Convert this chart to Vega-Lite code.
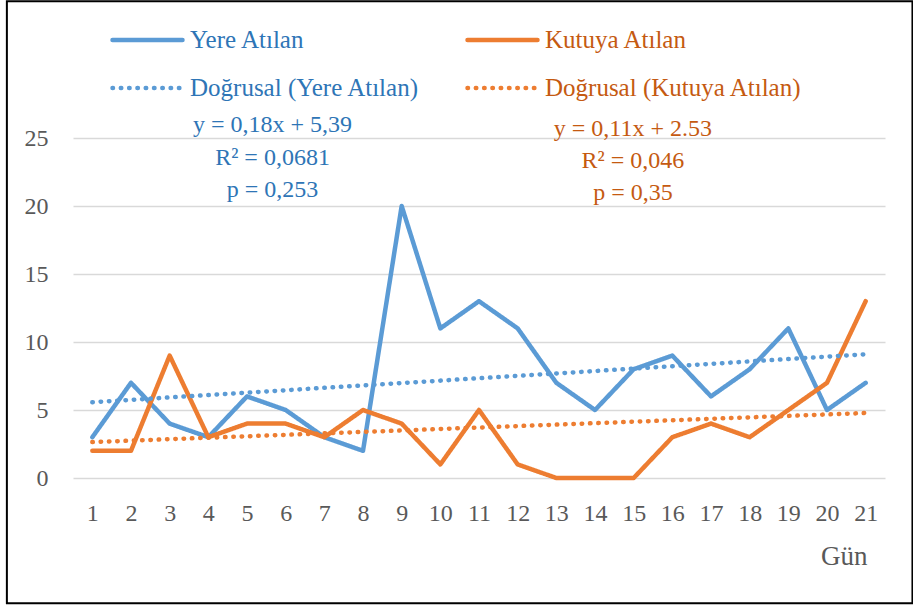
{
  "$schema": "https://vega.github.io/schema/vega-lite/v6.json",
  "width": 812,
  "height": 340,
  "padding": {"left": 5, "top": 0, "right": 0, "bottom": 0},
  "background": "white",
  "config": {
    "font": "Liberation Serif",
    "view": {"stroke": null},
    "axis": {"titleFont": "Liberation Serif", "titleFontWeight": "normal", "titleColor": "#595959", "labelFontSize": 24, "labelColor": "#595959"},
    "legend": {
      "orient": "none",
      "legendX": 37,
      "legendY": -113,
      "direction": "horizontal",
      "columns": 2,
      "columnPadding": 45,
      "rowPadding": 18,
      "clipHeight": 30,
      "symbolType": "stroke",
      "symbolSize": 4900,
      "labelOffset": 5,
      "labelFontSize": 25,
      "labelFont": "Liberation Serif",
      "padding": 0,
      "labelLimit": 400
    }
  },
  "datasets": {
    "series": [
      {"day": 1, "value": 3, "series": "Yere Atılan"},
      {"day": 2, "value": 7, "series": "Yere Atılan"},
      {"day": 3, "value": 4, "series": "Yere Atılan"},
      {"day": 4, "value": 3, "series": "Yere Atılan"},
      {"day": 5, "value": 6, "series": "Yere Atılan"},
      {"day": 6, "value": 5, "series": "Yere Atılan"},
      {"day": 7, "value": 3, "series": "Yere Atılan"},
      {"day": 8, "value": 2, "series": "Yere Atılan"},
      {"day": 9, "value": 20, "series": "Yere Atılan"},
      {"day": 10, "value": 11, "series": "Yere Atılan"},
      {"day": 11, "value": 13, "series": "Yere Atılan"},
      {"day": 12, "value": 11, "series": "Yere Atılan"},
      {"day": 13, "value": 7, "series": "Yere Atılan"},
      {"day": 14, "value": 5, "series": "Yere Atılan"},
      {"day": 15, "value": 8, "series": "Yere Atılan"},
      {"day": 16, "value": 9, "series": "Yere Atılan"},
      {"day": 17, "value": 6, "series": "Yere Atılan"},
      {"day": 18, "value": 8, "series": "Yere Atılan"},
      {"day": 19, "value": 11, "series": "Yere Atılan"},
      {"day": 20, "value": 5, "series": "Yere Atılan"},
      {"day": 21, "value": 7, "series": "Yere Atılan"},
      {"day": 1, "value": 2, "series": "Kutuya Atılan"},
      {"day": 2, "value": 2, "series": "Kutuya Atılan"},
      {"day": 3, "value": 9, "series": "Kutuya Atılan"},
      {"day": 4, "value": 3, "series": "Kutuya Atılan"},
      {"day": 5, "value": 4, "series": "Kutuya Atılan"},
      {"day": 6, "value": 4, "series": "Kutuya Atılan"},
      {"day": 7, "value": 3, "series": "Kutuya Atılan"},
      {"day": 8, "value": 5, "series": "Kutuya Atılan"},
      {"day": 9, "value": 4, "series": "Kutuya Atılan"},
      {"day": 10, "value": 1, "series": "Kutuya Atılan"},
      {"day": 11, "value": 5, "series": "Kutuya Atılan"},
      {"day": 12, "value": 1, "series": "Kutuya Atılan"},
      {"day": 13, "value": 0, "series": "Kutuya Atılan"},
      {"day": 14, "value": 0, "series": "Kutuya Atılan"},
      {"day": 15, "value": 0, "series": "Kutuya Atılan"},
      {"day": 16, "value": 3, "series": "Kutuya Atılan"},
      {"day": 17, "value": 4, "series": "Kutuya Atılan"},
      {"day": 18, "value": 3, "series": "Kutuya Atılan"},
      {"day": 19, "value": 5, "series": "Kutuya Atılan"},
      {"day": 20, "value": 7, "series": "Kutuya Atılan"},
      {"day": 21, "value": 13, "series": "Kutuya Atılan"}
    ],
    "trend": [
      {"day": 1, "value": 5.57, "series": "Doğrusal (Yere Atılan)"},
      {"day": 21, "value": 9.1, "series": "Doğrusal (Yere Atılan)"},
      {"day": 1, "value": 2.64, "series": "Doğrusal (Kutuya Atılan)"},
      {"day": 21, "value": 4.78, "series": "Doğrusal (Kutuya Atılan)"}
    ],
    "noteBlue": [{"note": "y = 0,18x + 5,39\nR² = 0,0681\np = 0,253"}],
    "noteOrange": [{"note": "y = 0,11x + 2.53\nR² = 0,046\np = 0,35"}],
    "frame": [{"frame": "border"}]
  },
  "layer": [
    {
      "data": {"name": "series"},
      "mark": {"type": "line", "strokeCap": "round", "strokeJoin": "round"},
      "encoding": {
        "x": {
          "field": "day", "type": "quantitative",
          "scale": {"domain": [0.5, 21.5], "nice": false, "zero": false},
          "axis": {
            "values": [1,2,3,4,5,6,7,8,9,10,11,12,13,14,15,16,17,18,19,20,21],
            "grid": false, "ticks": false, "domain": false,
            "labelFontSize": 24, "labelColor": "#595959", "labelPadding": 23,
            "labelFont": "Liberation Serif",
            "title": "Gün", "titleFont": "Liberation Serif", "titleFontSize": 27,
            "titleFontWeight": "normal", "titleColor": "#595959",
            "titleAnchor": "end", "titleAlign": "right", "titleBaseline": "middle",
            "titleX": 794, "titleY": 78
          }
        },
        "y": {
          "field": "value", "type": "quantitative",
          "scale": {"domain": [0, 25], "nice": false, "zero": false},
          "axis": {
            "values": [0, 5, 10, 15, 20, 25],
            "grid": true, "gridColor": "#D9D9D9", "gridWidth": 1.5,
            "ticks": false, "domain": false,
            "labelFontSize": 24, "labelColor": "#595959", "labelPadding": 25,
            "labelFont": "Liberation Serif",
            "title": null
          }
        },
        "color": {
          "field": "series", "type": "nominal",
          "scale": {
            "domain": ["Yere Atılan", "Kutuya Atılan", "Doğrusal (Yere Atılan)", "Doğrusal (Kutuya Atılan)"],
            "range": ["#5B9BD5", "#ED7D31", "#5B9BD5", "#ED7D31"]
          },
          "legend": {
            "title": null,
            "encode": {
              "symbols": {"update": {"strokeCap": {"value": "round"}}},
              "labels": {"update": {"fill": {"signal": "test(/Kutuya/, datum.label) ? '#C55A11' : '#2E75B6'"}}}
            }
          }
        },
        "strokeDash": {
          "field": "series", "type": "nominal",
          "scale": {
            "domain": ["Yere Atılan", "Kutuya Atılan", "Doğrusal (Yere Atılan)", "Doğrusal (Kutuya Atılan)"],
            "range": [[1, 0], [1, 0], [0.5, 7.8], [0.5, 7.8]]
          },
          "legend": {"title": null}
        },
        "strokeWidth": {
          "field": "series", "type": "nominal",
          "scale": {
            "domain": ["Yere Atılan", "Kutuya Atılan", "Doğrusal (Yere Atılan)", "Doğrusal (Kutuya Atılan)"],
            "range": [4.5, 4.5, 3.5, 3.5]
          },
          "legend": {"title": null}
        }
      }
    },
    {
      "data": {"name": "trend"},
      "mark": {"type": "line", "strokeCap": "round"},
      "encoding": {
        "x": {"field": "day", "type": "quantitative"},
        "y": {"field": "value", "type": "quantitative"},
        "color": {"field": "series", "type": "nominal", "legend": {"title": null}},
        "strokeDash": {"field": "series", "type": "nominal", "legend": {"title": null}},
        "strokeWidth": {"field": "series", "type": "nominal", "legend": {"title": null}}
      }
    },
    {
      "data": {"name": "noteBlue"},
      "mark": {"type": "text", "lineBreak": "\n", "lineHeight": 32.5, "align": "center", "baseline": "alphabetic", "fontSize": 24, "fill": "#2E75B6"},
      "encoding": {
        "x": {"datum": 5.66, "type": "quantitative"},
        "y": {"datum": 25.42, "type": "quantitative"},
        "text": {"field": "note", "type": "nominal"}
      }
    },
    {
      "data": {"name": "noteOrange"},
      "mark": {"type": "text", "lineBreak": "\n", "lineHeight": 32, "align": "center", "baseline": "alphabetic", "fontSize": 24, "fill": "#C55A11"},
      "encoding": {
        "x": {"datum": 14.98, "type": "quantitative"},
        "y": {"datum": 25.13, "type": "quantitative"},
        "text": {"field": "note", "type": "nominal"}
      }
    },
    {
      "data": {"name": "frame"},
      "mark": {"type": "rect", "fill": null, "stroke": "#000000", "strokeWidth": 2},
      "encoding": {
        "x": {"datum": -1.21, "type": "quantitative"},
        "x2": {"datum": 22.21},
        "y": {"datum": 35.05, "type": "quantitative"},
        "y2": {"datum": -9.21}
      }
    }
  ]
}
